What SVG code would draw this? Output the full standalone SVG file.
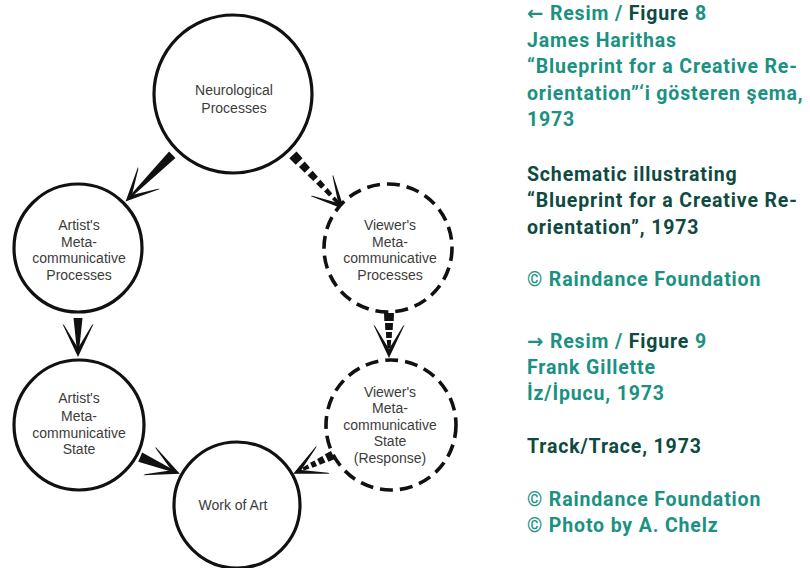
<svg xmlns="http://www.w3.org/2000/svg" xmlns:xlink="http://www.w3.org/1999/xlink" width="810" height="568" viewBox="0 0 810 568">
<style>
.node{fill:#fff;stroke:#111;stroke-width:3.2}
.dash{stroke-dasharray:13 7;stroke-width:3.6}
.lbl{font-family:"Liberation Sans",Arial,sans-serif;font-size:14px;fill:#3c3c3c;text-anchor:middle}
.ink{fill:#111}
.cap{font-family:Roboto,"DejaVu Sans",sans-serif;font-weight:700;font-size:19.5px;letter-spacing:0.85px}
.t{fill:#1a9181}
.d{fill:#0f4a41}
</style>
<defs>
<polygon id="head" points="2,0 -31,-15.5 -30,-14 -7,0 -30,14 -31,15.5"/>
</defs>
<rect width="810" height="568" fill="#fff"/>

<g id="connectors" class="ink">
  <g transform="translate(127,200) rotate(135)">
    <polygon points="-64,-4.5 -2,-0.8 -2,0.8 -64,4.5"/>
    <use xlink:href="#head"/>
  </g>
  <g transform="translate(343,208) rotate(46.7)">
    <polygon points="-73,-5 -64,-4.7 -64,4.7 -73,5"/>
    <polygon points="-60,-4 -52,-3.7 -52,3.7 -60,4"/>
    <polygon points="-48,-3.5 -40,-3.2 -40,3.2 -48,3.5"/>
    <polygon points="-36,-3 -29,-2.7 -29,2.7 -36,3"/>
    <polygon points="-25,-2.5 -18,-2.2 -18,2.2 -25,2.5"/>
    <polygon points="-14,-2 -6,-1.5 -6,1.5 -14,2"/>
    <use xlink:href="#head"/>
  </g>
  <g transform="translate(78,355) rotate(90)">
    <polygon points="-37,-4.5 -2,-0.8 -2,0.8 -37,4.5"/>
    <use xlink:href="#head"/>
  </g>
  <g transform="translate(389,356) rotate(90)">
    <polygon points="-43,-5 -35,-4.7 -35,4.7 -43,5"/>
    <polygon points="-33,-4 -26,-3.7 -26,3.7 -33,4"/>
    <polygon points="-24,-3 -18,-2.8 -18,2.8 -24,3"/>
    <polygon points="-16,-2.2 -8,-1.6 -8,1.6 -16,2.2"/>
    <use xlink:href="#head"/>
  </g>
  <g transform="translate(178,473) rotate(22.8)">
    <polygon points="-41,-5 -2,-0.8 -2,0.8 -41,5"/>
    <use xlink:href="#head"/>
  </g>
  <g transform="translate(295,473) rotate(154.7)">
    <polygon points="-42,-4.5 -35,-4.2 -35,4.2 -42,4.5"/>
    <polygon points="-32,-3.6 -26,-3.3 -26,3.3 -32,3.6"/>
    <polygon points="-23,-3 -18,-2.7 -18,2.7 -23,3"/>
    <polygon points="-15,-2.2 -9,-1.6 -9,1.6 -15,2.2"/>
    <use xlink:href="#head"/>
  </g>
</g>

<g id="neurological">
  <circle class="node" cx="233" cy="94" r="79"/>
  <text class="lbl" x="234" y="95">Neurological</text>
  <text class="lbl" x="234" y="113">Processes</text>
</g>
<g id="artist-processes">
  <circle class="node" cx="78" cy="248" r="64"/>
  <text class="lbl" x="79" y="230">Artist's</text>
  <text class="lbl" x="79" y="247">Meta-</text>
  <text class="lbl" x="79" y="263">communicative</text>
  <text class="lbl" x="79" y="280">Processes</text>
</g>
<g id="artist-state">
  <circle class="node" cx="79" cy="425" r="65"/>
  <text class="lbl" x="79" y="403">Artist's</text>
  <text class="lbl" x="79" y="421">Meta-</text>
  <text class="lbl" x="79" y="438">communicative</text>
  <text class="lbl" x="79" y="454">State</text>
</g>
<g id="viewer-processes">
  <circle class="node dash" cx="388" cy="248" r="64"/>
  <text class="lbl" x="390" y="230">Viewer's</text>
  <text class="lbl" x="390" y="247">Meta-</text>
  <text class="lbl" x="390" y="263">communicative</text>
  <text class="lbl" x="390" y="280">Processes</text>
</g>
<g id="viewer-state">
  <circle class="node dash" cx="391" cy="425" r="65"/>
  <text class="lbl" x="390" y="397">Viewer's</text>
  <text class="lbl" x="390" y="413">Meta-</text>
  <text class="lbl" x="390" y="430">communicative</text>
  <text class="lbl" x="390" y="446">State</text>
  <text class="lbl" x="390" y="463">(Response)</text>
</g>
<g id="work-of-art">
  <circle class="node" cx="237" cy="505" r="63"/>
  <text class="lbl" x="233" y="510">Work of Art</text>
</g>

<g id="caption" class="cap">
  <text x="527" y="20"><tspan class="t">← Resim / </tspan><tspan class="d">Figure</tspan><tspan class="t"> 8</tspan></text>
  <text class="t" x="527" y="47">James Harithas</text>
  <text class="t" x="527" y="73">“Blueprint for a Creative Re-</text>
  <text class="t" x="527" y="100">orientation”‘i gösteren şema,</text>
  <text class="t" x="527" y="126">1973</text>
  <text class="d" x="527" y="181">Schematic illustrating</text>
  <text class="d" x="527" y="207">“Blueprint for a Creative Re-</text>
  <text class="d" x="527" y="234">orientation”, 1973</text>
  <text class="t" x="527" y="286">© Raindance Foundation</text>
  <text x="527" y="348"><tspan class="t">→ Resim / </tspan><tspan class="d">Figure</tspan><tspan class="t"> 9</tspan></text>
  <text class="t" x="527" y="374">Frank Gillette</text>
  <text class="t" x="527" y="400">İz/İpucu, 1973</text>
  <text class="d" x="527" y="453">Track/Trace, 1973</text>
  <text class="t" x="527" y="506">© Raindance Foundation</text>
  <text class="t" x="527" y="532">© Photo by A. Chelz</text>
</g>
</svg>
